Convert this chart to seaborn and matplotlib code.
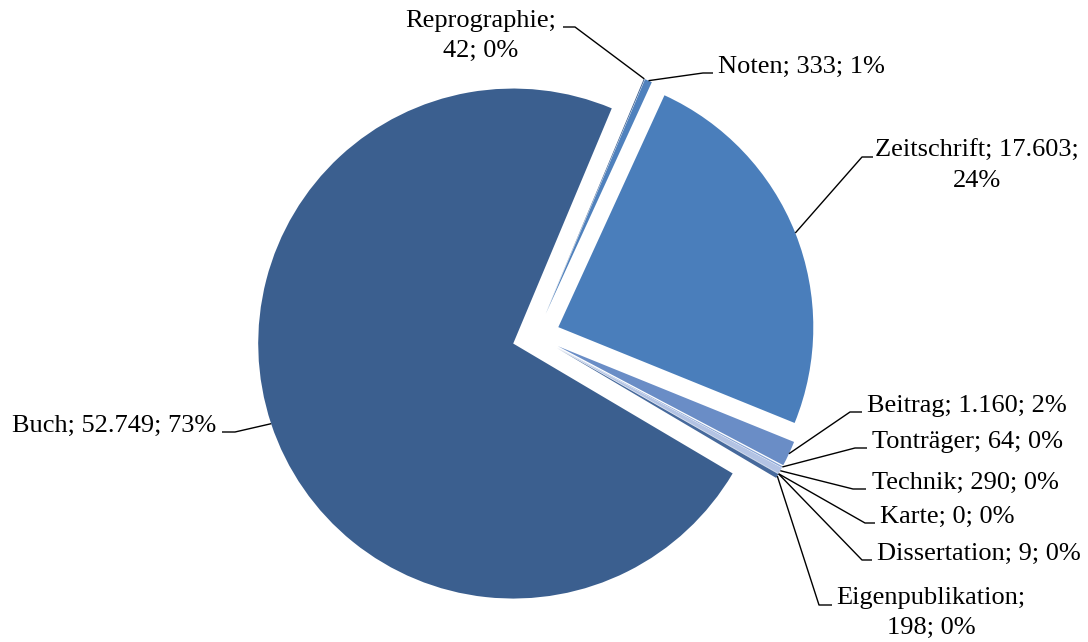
"""
Medienarten im Bestand - Kreisdiagramm (nachgebaut mit seaborn/matplotlib).
"""

import numpy as np
import matplotlib
matplotlib.use("Agg")
import matplotlib.pyplot as plt
import seaborn as sns

# --- Daten (Reihenfolge im Uhrzeigersinn, ab Zeitschrift) ---
categories = ["Zeitschrift", "Beitrag", "Tonträger", "Technik", "Karte",
              "Dissertation", "Eigenpublikation", "Buch", "Reprographie", "Noten"]
counts = [17603, 1160, 64, 290, 0, 9, 198, 52749, 42, 333]
pct_labels = ["24%", "2%", "0%", "0%", "0%", "0%", "0%", "73%", "0%", "1%"]

colors = ["#4a7ebb", "#6a8dc6", "#8aa6d6", "#b3c3e4", "#9fb4dc",
          "#5a7fb8", "#46699c", "#3b5f8f", "#3a5e90", "#4f81bd"]

# --- Layout (Pixel im Bild, y nach unten) ---
W, H = 1088, 642
center_px = (536, 336)
radius = 255
explode_px = 24          # matplotlib: explode in Dateneinheiten
start_angle = 65.4

# Label: Textposition, Ausrichtung, Knick und Ende der Führungslinie, Zeilenumbruch
label_layout = {
    "Reprographie":     dict(xy=(481, 27), ha="center", elbow=(575, 27), end=(563, 27), split=1),
    "Noten":            dict(xy=(718, 73), ha="left", elbow=(703, 73), end=(713, 73), split=None),
    "Zeitschrift":      dict(xy=(977, 157), ha="center", elbow=(862, 157), end=(873, 157), split=2),
    "Buch":             dict(xy=(12, 432), ha="left", elbow=(235, 432), end=(222, 432), split=None),
    "Beitrag":          dict(xy=(867, 412), ha="left", elbow=(850, 412), end=(862, 412), split=None),
    "Tonträger":        dict(xy=(872, 448), ha="left", elbow=(855, 448), end=(867, 448), split=None),
    "Technik":          dict(xy=(872, 489), ha="left", elbow=(853, 489), end=(866, 489), split=None),
    "Karte":            dict(xy=(880, 523), ha="left", elbow=(865, 523), end=(875, 523), split=None),
    "Dissertation":     dict(xy=(877, 560), ha="left", elbow=(862, 560), end=(872, 560), split=None),
    "Eigenpublikation": dict(xy=(931, 604), ha="center", elbow=(819, 605), end=(832, 605), split=1),
}
line_gap = 30


def fmt_de(n):
    """Tausenderpunkt wie im Original."""
    return f"{n:,}".replace(",", ".")


def sy(y):
    """Bildzeile -> Datenkoordinate (y nach oben)."""
    return H - y


sns.set_style("white")
plt.rcParams["font.family"] = ["Liberation Serif", "DejaVu Serif"]

fig = plt.figure(figsize=(W / 100, H / 100), dpi=100)
ax = fig.add_axes([0, 0, 1, 1])

wedges, _ = ax.pie(
    counts,
    colors=colors,
    explode=[explode_px] * len(counts),
    startangle=start_angle,
    counterclock=False,
    center=(center_px[0], sy(center_px[1])),
    radius=radius,
    wedgeprops=dict(linewidth=0),
)

ax.set_xlim(0, W)
ax.set_ylim(0, H)
ax.set_aspect("equal")
ax.axis("off")

for w, name, n, pct in zip(wedges, categories, counts, pct_labels):
    lay = label_layout[name]
    mid = np.deg2rad((w.theta1 + w.theta2) / 2)
    cx, cy = w.center
    ax_pt = (cx + w.r * np.cos(mid), cy + w.r * np.sin(mid))

    # Führungslinie: Segment-Rand -> Knick -> Text
    xs = [ax_pt[0], lay["elbow"][0], lay["end"][0]]
    ys = [ax_pt[1], sy(lay["elbow"][1]), sy(lay["end"][1])]
    ax.plot(xs, ys, color="black", lw=1.0, solid_capstyle="butt")

    parts = [name, fmt_de(n), pct]
    if lay["split"] is None:
        lines = ["; ".join(parts)]
    else:
        k = lay["split"]
        lines = ["; ".join(parts[:k]) + ";", "; ".join(parts[k:])]

    tx, ty = lay["xy"]
    for i, line in enumerate(lines):
        ax.text(tx, sy(ty + i * line_gap), line, ha=lay["ha"], va="baseline",
                fontsize=19, color="black")

fig.savefig("out.png", dpi=100)
plt.close(fig)
